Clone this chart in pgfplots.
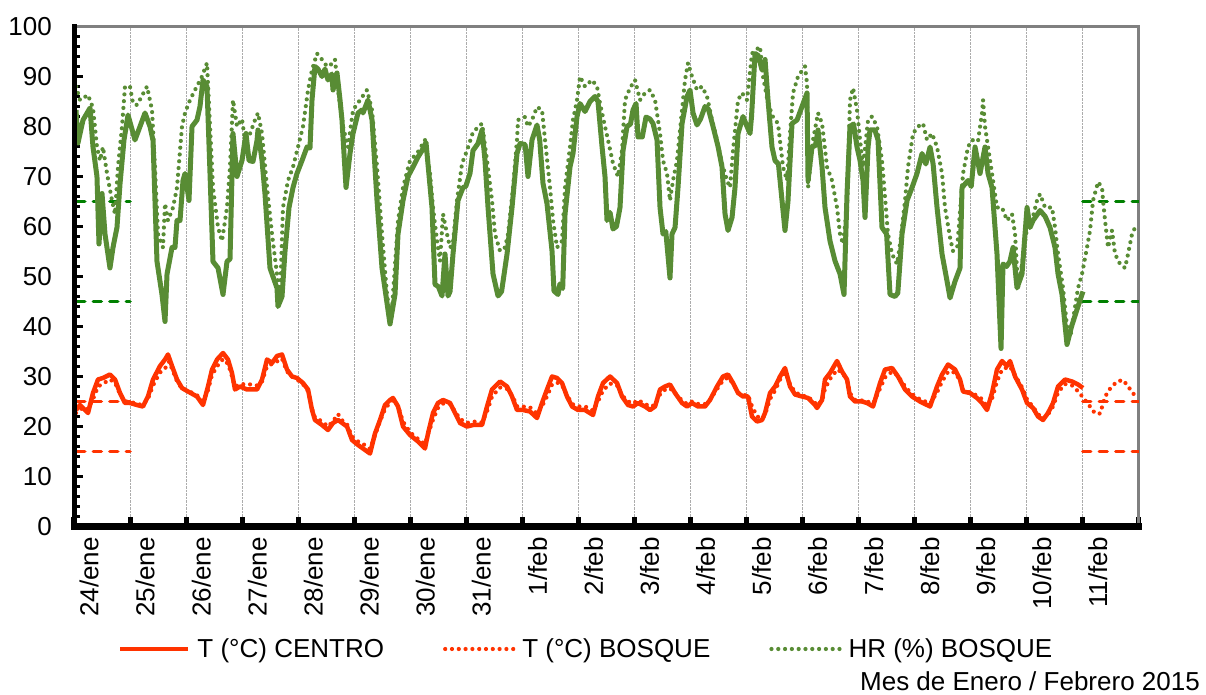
\documentclass[border=0pt]{standalone}
\usepackage{fontspec}
\setmainfont{Liberation Sans}
\usepackage{pgfplots}
\pgfplotsset{compat=1.18}

\definecolor{rojoT}{RGB}{255,51,0}
\definecolor{verdeHR}{RGB}{88,140,52}
\definecolor{verdeLim}{RGB}{0,128,0}
\definecolor{bordeGris}{RGB}{128,128,128}

\newcommand{\rotfont}{\fontsize{26}{31}\selectfont}

\begin{document}
\begin{tikzpicture}
\useasboundingbox (-74pt,-168.5pt) rectangle (1132pt,526.5pt);
\begin{axis}[
  name=ax,
  at={(0pt,0pt)}, anchor=south west,
  scale only axis,
  width=1064.8pt, height=500pt,
  xmin=0, xmax=19, ymin=0, ymax=100,
  axis line style={bordeGris, line width=3pt},
  % day boundaries: grid and square ticks
  xtick={0,...,19}, xticklabels={},
  xmajorgrids,
  x grid style={gray!65, densely dotted, line width=0.8pt},
  every x tick/.append style={line width=5pt},
  % day names, set a little after each boundary
  extra x ticks={0.27,1.27,2.27,3.27,4.27,5.27,6.27,7.27,8.27,9.27,10.27,11.27,12.27,13.27,14.27,15.27,16.27,17.27,18.27},
  extra x tick labels={24/ene,25/ene,26/ene,27/ene,28/ene,29/ene,30/ene,31/ene,1/feb,2/feb,3/feb,4/feb,5/feb,6/feb,7/feb,8/feb,9/feb,10/feb,11/feb},
  extra x tick style={grid=none, major tick length=0pt, tick style={draw=none}},
  xticklabel style={rotate=90, anchor=east, inner sep=0pt, font=\rotfont},
  xticklabel shift=10.5pt,
  ytick={0,10,...,100},
  minor y tick num=4,
  tick align=inside,
  xtick pos=left, ytick pos=left,
  major tick length=9.5pt, minor tick length=6.5pt,
  tick style={black, line width=3pt},
  yticklabel style={inner sep=0pt, font=\rotfont},
  yticklabel shift=22pt,
  /pgf/number format/assume math mode=true,
  legend columns=3,
  legend image code/.code={\draw[#1] (0pt,0pt) -- (68pt,0pt);},
  legend style={at={(0,0)}, anchor=west, xshift=44pt, yshift=-122.5pt,
    draw=none, fill=none, inner sep=0pt, outer sep=0pt,
    font=\rotfont, nodes={inner sep=0pt},
    /tikz/every odd column/.append style={column sep=7pt},
    /tikz/every even column/.append style={column sep=59pt}},
  legend cell align=left,
  every axis plot/.append style={mark=none, line join=round},
  puntos/.style={line width=4.2pt, line cap=round, dash pattern=on 0pt off 6.8pt},
  rayas/.style={line width=3.5pt, line cap=round, dash pattern=on 8pt off 8.5pt, forget plot},
]

% limits (dashed)
\addplot[verdeLim, rayas] coordinates {(0.05,65) (1,65)};
\addplot[verdeLim, rayas] coordinates {(0.05,45) (1,45)};
\addplot[verdeLim, rayas] coordinates {(18,65) (19,65)};
\addplot[verdeLim, rayas] coordinates {(18,45) (19,45)};
\addplot[rojoT, rayas] coordinates {(0.05,25) (1,25)};
\addplot[rojoT, rayas] coordinates {(0.05,15) (1,15)};
\addplot[rojoT, rayas] coordinates {(18,25) (19,25)};
\addplot[rojoT, rayas] coordinates {(18,15) (19,15)};

% HR (%) CENTRO
\addplot[verdeHR, line width=5pt, forget plot] coordinates {
(0.036,83.3) (0.071,76.7) (0.161,81.3) (0.286,83.7) (0.339,75.9) (0.410,70) (0.446,56.5) (0.500,66.6)
(0.553,58.5) (0.642,51.7) (0.696,55.8) (0.767,59.8) (0.821,68.5) (0.892,77.3) (0.964,82.3) (1.088,77.3)
(1.178,80) (1.267,82.7) (1.356,80) (1.410,77.2) (1.481,53) (1.570,46.4) (1.624,41) (1.660,50.5)
(1.749,55.8) (1.802,55.8) (1.838,61.2) (1.892,61.2) (1.945,69.2) (1.981,70.6) (2.052,65.2) (2.106,80)
(2.195,81.3) (2.248,84) (2.302,89.3) (2.373,88) (2.427,70.6) (2.480,53) (2.570,51.7) (2.659,46.4)
(2.730,53) (2.784,53.5) (2.837,78.6) (2.909,70) (2.998,73.2) (3.069,78.6) (3.123,73.2) (3.194,73)
(3.266,77.2) (3.283,79.3) (3.355,73.2) (3.408,66.5) (3.497,51.7) (3.622,47.7) (3.640,44) (3.712,46)
(3.765,55) (3.837,63.8) (3.908,67.8) (3.979,70.6) (4.069,73.2) (4.158,75.9) (4.211,75.7) (4.247,85.3)
(4.300,92) (4.354,91.5) (4.425,90) (4.479,91.5) (4.532,89.3) (4.600,90.5) (4.622,87.3) (4.693,90.7)
(4.747,85.3) (4.782,81.3) (4.854,67.8) (4.925,74.6) (4.979,78.6) (5.068,82.7) (5.139,83.3) (5.157,82.7)
(5.246,85.3) (5.318,81.3) (5.407,65.2) (5.496,51.7) (5.639,40.5) (5.728,46.4) (5.782,58.5) (5.871,65.2)
(5.960,70) (6.049,71.9) (6.139,73.9) (6.200,75) (6.281,76.8) (6.388,63.8) (6.442,48.4) (6.500,48)
(6.567,46.1) (6.620,54.5) (6.674,46.1) (6.710,47) (6.763,54.5) (6.852,65.2) (6.942,67.8) (6.990,68)
(7.066,70.6) (7.120,75.2) (7.209,76.6) (7.281,79.3) (7.334,73.2) (7.388,63.8) (7.477,50.5) (7.566,46.1)
(7.630,47) (7.727,54.5) (7.816,63.8) (7.905,74.6) (7.959,76.6) (8.050,76.4) (8.101,70) (8.173,77.3)
(8.262,80.3) (8.310,77.3) (8.369,68.6) (8.440,64.6) (8.530,55.1) (8.565,47.1) (8.637,46.4) (8.670,48.5)
(8.720,47.6) (8.762,62.5) (8.851,71.9) (8.904,74.6) (8.976,82) (9.029,84.6) (9.118,83) (9.208,85)
(9.297,86) (9.350,85) (9.422,76) (9.475,70) (9.511,61.2) (9.565,62.8) (9.618,59.5) (9.680,60)
(9.743,63.8) (9.797,75.2) (9.868,80) (9.930,80.5) (9.975,83.3) (10.029,84.6) (10.064,77.9) (10.140,77.9)
(10.207,81.9) (10.278,81.5) (10.332,80.6) (10.403,77.3) (10.457,63.8) (10.510,58.5) (10.560,59) (10.635,49.7)
(10.671,58.5) (10.725,59.8) (10.778,67.8) (10.850,80.6) (10.939,86) (10.992,87.3) (11.046,82.7) (11.117,80.3)
(11.180,81.5) (11.260,84) (11.320,83.5) (11.403,80) (11.492,76) (11.563,71.9) (11.617,62.5) (11.670,59.2)
(11.742,61.8) (11.795,67.8) (11.849,78.6) (11.938,82) (12.009,80) (12.063,78.6) (12.090,82) (12.152,94.6)
(12.210,94.2) (12.277,91.3) (12.331,93.4) (12.384,85.3) (12.455,75.9) (12.509,73.2) (12.570,72.5) (12.634,65.2)
(12.687,59.2) (12.740,65) (12.812,80.6) (12.902,81.3) (12.991,84) (13.080,86.7) (13.098,69.2) (13.169,75.9)
(13.230,76.2) (13.276,79.3) (13.348,71.9) (13.401,63.8) (13.490,57.1) (13.580,53.1) (13.669,50.5) (13.740,46.4)
(13.794,66.6) (13.847,80) (13.910,80.5) (13.972,75.9) (14.026,73.2) (14.079,69.2) (14.115,61.8) (14.169,75.9)
(14.204,79.3) (14.290,79.3) (14.347,77.3) (14.418,59.8) (14.500,58.5) (14.561,46.4) (14.650,46) (14.700,46.7)
(14.775,58.5) (14.865,65.2) (14.954,67.8) (15.043,70.6) (15.132,74.6) (15.200,72.5) (15.275,75.9) (15.330,72.5)
(15.400,63.8) (15.489,54.5) (15.578,49.1) (15.632,45.7) (15.720,49) (15.810,51.7) (15.846,67.8) (15.953,69.2)
(16.010,68) (16.078,75.9) (16.167,70.6) (16.256,75.9) (16.310,70.6) (16.381,67.8) (16.470,54.5) (16.542,35.6)
(16.577,52.5) (16.640,52) (16.700,53) (16.756,55.8) (16.827,47.7) (16.916,50.5) (17.006,63.8) (17.059,59.8)
(17.113,61.2) (17.238,63.2) (17.330,62) (17.416,59.8) (17.505,55.8) (17.559,50.5) (17.630,46.4) (17.719,36.4)
(17.800,40) (17.900,43.5) (18.005,47)
};

% T (°C) CENTRO
\addplot[rojoT, line width=4.5pt] coordinates {
(0.036,23.3) (0.107,24.3) (0.250,22.7) (0.339,26.7) (0.428,29.4) (0.517,29.7) (0.642,30.4) (0.732,29.4)
(0.821,26.7) (0.910,24.7) (0.999,24.7) (1.124,24.3) (1.231,24.0) (1.320,26.0) (1.410,29.4) (1.535,32.1)
(1.624,33.4) (1.677,34.4) (1.749,32.1) (1.838,29.4) (1.927,27.7) (2.034,27.0) (2.195,26.0) (2.302,24.3)
(2.391,28.0) (2.463,31.4) (2.552,33.4) (2.659,34.7) (2.748,33.4) (2.819,30.7) (2.873,27.4) (2.962,28.0)
(3.087,27.4) (3.266,27.4) (3.355,29.4) (3.444,33.4) (3.533,32.7) (3.622,34.1) (3.712,34.4) (3.801,31.4)
(3.890,30.0) (3.979,29.7) (4.086,28.7) (4.176,27.4) (4.247,23.3) (4.300,21.3) (4.425,20.3) (4.532,19.3)
(4.622,20.7) (4.711,21.3) (4.872,20.0) (4.961,17.3) (5.068,16.3) (5.157,15.6) (5.282,14.6) (5.371,18.6)
(5.460,21.3) (5.550,24.3) (5.639,25.3) (5.692,25.7) (5.782,24.0) (5.871,20.0) (5.996,18.3) (6.139,17.0)
(6.263,15.6) (6.317,18.6) (6.406,22.7) (6.495,24.7) (6.585,25.3) (6.710,24.7) (6.799,22.7) (6.888,20.7)
(7.013,20.0) (7.120,20.3) (7.281,20.3) (7.370,24.0) (7.459,27.4) (7.602,29.0) (7.727,28.0) (7.816,26.0)
(7.905,23.3) (8.012,23.3) (8.137,23.0) (8.262,21.7) (8.351,24.7) (8.440,27.4) (8.530,30.0) (8.619,29.7)
(8.708,28.7) (8.797,26.0) (8.887,24.0) (8.994,23.3) (9.118,23.3) (9.261,22.3) (9.350,26.0) (9.440,28.7)
(9.565,30.0) (9.690,28.7) (9.779,26.0) (9.886,24.3) (9.975,24.0) (10.064,24.7) (10.189,24.0) (10.278,23.3)
(10.368,24.0) (10.457,27.4) (10.546,28.0) (10.635,28.4) (10.725,26.7) (10.850,24.7) (10.939,24.0) (11.028,24.7)
(11.135,24.0) (11.260,24.0) (11.349,25.3) (11.474,28.0) (11.581,30.0) (11.670,30.4) (11.760,28.7) (11.849,26.7)
(11.938,26.0) (12.027,26.0) (12.098,22.0) (12.188,21.0) (12.277,21.3) (12.331,22.7) (12.420,26.7) (12.509,28.0)
(12.598,30.0) (12.687,31.7) (12.777,28.0) (12.866,26.4) (12.991,26.0) (13.098,25.7) (13.223,24.3) (13.258,23.7)
(13.348,25.3) (13.401,29.4) (13.490,30.7) (13.615,33.1) (13.704,31.0) (13.794,29.4) (13.847,26.0) (13.937,25.0)
(14.061,25.0) (14.151,24.7) (14.258,24.0) (14.383,28.7) (14.472,31.4) (14.597,31.7) (14.704,30.0) (14.829,27.4)
(14.954,26.0) (15.096,25.0) (15.275,24.0) (15.400,28.0) (15.489,30.4) (15.596,32.4) (15.721,31.4) (15.810,29.4)
(15.864,27.0) (15.989,26.7) (16.113,25.7) (16.203,24.7) (16.292,23.3) (16.381,26.7) (16.470,31.4) (16.560,33.1)
(16.649,32.1) (16.702,33.1) (16.792,30.0) (16.916,27.4) (17.006,24.7) (17.113,23.7) (17.202,22.0) (17.291,21.3)
(17.380,22.7) (17.470,24.7) (17.559,28.0) (17.684,29.4) (17.809,29.0) (17.916,28.4) (18.005,27.7)
};
\addlegendentry{T (°C) CENTRO}

% T (°C) BOSQUE
\addplot[rojoT, puntos] coordinates {
(0.036,22.7) (0.160,23.8) (0.250,23.5) (0.340,25.5) (0.430,28.0) (0.520,28.6) (0.642,29.4) (0.730,28.8)
(0.820,26.5) (0.910,25.0) (1.000,25.0) (1.120,24.5) (1.230,24.3) (1.320,25.5) (1.410,28.2) (1.535,30.8)
(1.624,31.6) (1.700,33.0) (1.750,31.5) (1.840,29.0) (1.930,27.5) (2.030,27.2) (2.200,26.2) (2.300,25.0)
(2.390,27.2) (2.460,30.2) (2.550,32.0) (2.660,33.5) (2.750,32.5) (2.820,30.0) (2.870,28.0) (2.960,28.4)
(3.090,28.5) (3.270,28.2) (3.355,29.0) (3.444,32.0) (3.530,32.5) (3.620,33.0) (3.710,33.6) (3.800,31.0)
(3.890,30.0) (3.980,29.4) (4.090,28.4) (4.180,27.0) (4.250,23.5) (4.300,21.8) (4.430,21.0) (4.530,20.0)
(4.620,21.0) (4.710,22.5) (4.800,21.0) (4.870,20.5) (4.960,18.0) (5.070,17.0) (5.160,16.5) (5.280,15.5)
(5.370,18.2) (5.460,21.0) (5.550,23.5) (5.640,24.8) (5.690,25.3) (5.780,24.2) (5.870,21.0) (6.000,18.8)
(6.140,17.5) (6.260,16.5) (6.320,18.5) (6.410,21.5) (6.500,23.8) (6.590,24.6) (6.710,24.5) (6.800,23.0)
(6.890,21.5) (7.010,20.7) (7.120,21.0) (7.280,20.8) (7.370,23.0) (7.460,26.0) (7.600,27.8) (7.730,27.5)
(7.820,26.2) (7.910,24.0) (8.010,24.0) (8.140,23.8) (8.260,22.6) (8.350,24.0) (8.440,26.0) (8.530,28.4)
(8.620,28.8) (8.710,28.2) (8.800,26.2) (8.890,24.5) (8.990,24.0) (9.120,24.0) (9.260,23.2) (9.350,25.0)
(9.440,27.2) (9.565,28.6) (9.690,28.2) (9.780,26.2) (9.890,25.0) (9.980,24.6) (10.060,25.3) (10.190,24.5)
(10.280,24.0) (10.370,24.3) (10.460,26.5) (10.550,27.4) (10.640,27.6) (10.730,26.6) (10.850,25.2) (10.940,24.5)
(11.030,25.0) (11.140,24.5) (11.260,24.5) (11.350,25.4) (11.470,27.4) (11.580,29.2) (11.670,29.8) (11.760,28.6)
(11.850,26.8) (11.940,26.3) (12.030,26.2) (12.100,24.0) (12.190,22.0) (12.280,21.6) (12.330,22.3) (12.420,25.5)
(12.510,27.2) (12.600,29.4) (12.690,30.8) (12.780,28.4) (12.870,26.8) (12.990,26.2) (13.100,25.9) (13.220,24.8)
(13.260,24.2) (13.350,25.2) (13.400,27.5) (13.490,29.5) (13.620,31.4) (13.700,30.8) (13.790,29.5) (13.850,26.6)
(13.940,25.3) (14.060,25.2) (14.150,25.0) (14.260,24.6) (14.380,27.5) (14.470,29.8) (14.600,31.0) (14.700,30.2)
(14.830,28.0) (14.950,26.5) (15.100,25.4) (15.280,24.6) (15.400,26.8) (15.490,29.0) (15.600,31.0) (15.720,30.8)
(15.810,29.2) (15.860,27.4) (15.990,26.8) (16.110,26.2) (16.200,25.5) (16.290,24.0) (16.380,25.5) (16.470,29.0)
(16.560,31.4) (16.650,31.8) (16.700,32.0) (16.790,30.3) (16.920,27.8) (17.010,25.3) (17.110,24.0) (17.200,22.5)
(17.290,21.6) (17.380,22.4) (17.470,24.0) (17.560,26.8) (17.680,28.5) (17.810,28.2) (17.920,27.0) (18.040,25.3)
(18.130,24.0) (18.220,22.6) (18.310,22.6) (18.400,26.0) (18.490,27.6) (18.610,29.0) (18.720,29.3) (18.810,28.0)
(18.900,26.6) (18.970,25.8)
};
\addlegendentry{T (°C) BOSQUE}

% HR (%) BOSQUE
\addplot[verdeHR, puntos] coordinates {
(0.036,88) (0.107,85.3) (0.250,86.3) (0.339,83.7) (0.410,75.9) (0.464,73.2) (0.517,75.9) (0.589,70.6)
(0.678,65.2) (0.732,62.5) (0.785,71.9) (0.857,80) (0.910,88) (0.999,88) (1.053,84.6) (1.124,84.3)
(1.303,88) (1.392,83.3) (1.445,71.9) (1.499,58.5) (1.588,55.8) (1.624,64.6) (1.677,61.2) (1.767,63.8)
(1.838,67.8) (1.927,80) (1.981,82.7) (2.070,85.3) (2.159,87.3) (2.284,90) (2.373,92.7) (2.427,80)
(2.480,67.8) (2.570,59.8) (2.641,57.1) (2.730,63.8) (2.784,71.9) (2.837,85.3) (2.909,80) (2.998,81.5)
(3.051,77.3) (3.123,78) (3.230,81.3) (3.283,82.7) (3.355,78.6) (3.444,67.8) (3.533,58.5) (3.622,50.5)
(3.676,45.2) (3.729,63.8) (3.819,69.2) (3.908,71.9) (3.997,75.9) (4.086,80) (4.176,87.3) (4.247,91.3)
(4.336,94.6) (4.425,93.4) (4.515,92) (4.600,92.5) (4.657,93.4) (4.711,87.3) (4.800,80) (4.889,75.9)
(4.979,83.3) (5.104,85.3) (5.228,87.3) (5.318,83.3) (5.407,71.9) (5.496,58.5) (5.585,46.4) (5.660,41)
(5.782,61.2) (5.871,67.8) (5.996,73.2) (6.121,74.6) (6.263,77.3) (6.353,70.6) (6.406,63.8) (6.478,57.1)
(6.531,53.1) (6.585,62.5) (6.656,58.5) (6.710,55.8) (6.760,56.5) (6.834,65.2) (6.924,72.6) (7.013,75.2)
(7.120,78.9) (7.281,80.6) (7.370,73.2) (7.459,65.2) (7.512,58.5) (7.602,55.1) (7.691,55.8) (7.745,58.5)
(7.834,67.8) (7.905,77.3) (7.923,81.3) (8.048,81.9) (8.100,80) (8.173,81.3) (8.262,83.9) (8.351,83.3)
(8.405,77.3) (8.494,67.8) (8.548,61.2) (8.619,55.8) (8.708,57.1) (8.762,67.8) (8.851,75.9) (8.904,81.3)
(8.976,85.3) (9.029,90) (9.118,88) (9.243,89.3) (9.333,88) (9.386,84.6) (9.475,80) (9.529,77.3)
(9.618,72.6) (9.707,70) (9.779,75.2) (9.832,85.3) (9.922,87.7) (10.011,89.3) (10.100,85.3) (10.189,86.7)
(10.278,87.3) (10.368,85.3) (10.457,78.6) (10.510,73.2) (10.582,70.6) (10.635,65.2) (10.689,69.2) (10.760,73.2)
(10.850,83.3) (10.903,89.3) (10.957,92.7) (11.028,90) (11.117,87.3) (11.207,88) (11.296,86) (11.385,81.3)
(11.474,77.3) (11.563,72.6) (11.653,69.2) (11.706,67.8) (11.760,75.2) (11.849,85.3) (11.920,86.7) (12.009,85.3)
(12.098,94.6) (12.241,96) (12.295,90) (12.384,84.6) (12.473,81.9) (12.562,80.6) (12.652,71.9) (12.723,69.2)
(12.777,78.6) (12.830,86.7) (12.919,90) (13.044,92) (13.080,88.6) (13.098,67.8) (13.187,77.3) (13.276,82.7)
(13.348,80.6) (13.437,71.9) (13.526,69.2) (13.615,63.8) (13.669,58.5) (13.722,56.5) (13.794,63.8) (13.847,85.3)
(13.901,87.7) (13.972,83.3) (14.026,77.3) (14.079,71.9) (14.169,81.3) (14.240,82) (14.329,80) (14.418,73.2)
(14.472,65.8) (14.525,58.5) (14.597,54.5) (14.686,52.5) (14.740,56.5) (14.829,65.2) (14.882,71.9) (14.972,78.6)
(15.061,80) (15.150,80.6) (15.221,77.3) (15.310,78.6) (15.400,75.9) (15.489,70.6) (15.542,63.8) (15.632,57.8)
(15.685,55.1) (15.760,55.8) (15.864,70.6) (15.953,75.9) (16.024,77.3) (16.130,77) (16.203,82.7) (16.221,85.3)
(16.256,80) (16.310,75.9) (16.381,70.6) (16.470,63.8) (16.560,63.8) (16.649,61.2) (16.738,62.5) (16.792,58.5)
(16.845,47.7) (16.916,52.5) (17.006,59.8) (17.095,61.2) (17.184,65.2) (17.238,66.5) (17.327,63.8) (17.452,63.8)
(17.505,59.8) (17.559,54.5) (17.648,47.7) (17.719,40) (17.780,38) (17.916,47.7) (17.987,50.5) (18.076,55.8)
(18.130,59.2) (18.184,65.2) (18.273,68.9) (18.344,67.8) (18.362,65.2) (18.398,61.2) (18.451,55.8) (18.522,59.2)
(18.576,54.5) (18.665,52.5) (18.755,51.7) (18.808,54.5) (18.879,58.5) (18.968,60.6)
};
\addlegendentry{HR (\%) BOSQUE}
\end{axis}

% heavy black left and bottom axis lines
\draw[black, line width=5pt, line cap=rect] (ax.south west) -- (ax.north west);
\draw[black, line width=6.5pt, line cap=rect] (ax.south west) -- (ax.south east);

\node[anchor=east, inner sep=0pt, font=\rotfont] at (1126pt,-154.5pt) {Mes de Enero / Febrero 2015};
\end{tikzpicture}
\end{document}
